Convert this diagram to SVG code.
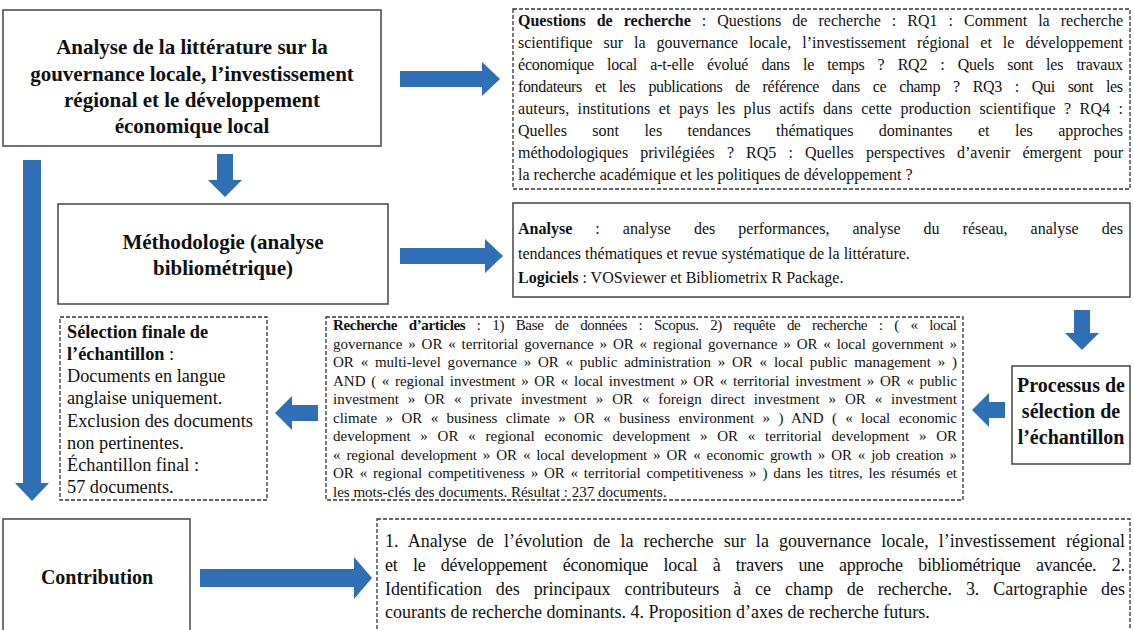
<svg xmlns="http://www.w3.org/2000/svg" width="1134" height="630" viewBox="0 0 1134 630">
<style>
.t{font-family:"Liberation Serif","Times New Roman",serif;fill:#111}
.b{font-weight:bold}
.box{fill:#fff;stroke:#444;stroke-width:1.5}
.dash{fill:#fff;stroke:#333;stroke-width:1.3;stroke-dasharray:4 2}
.arr{fill:#2F6FB6}
.q{font-size:16px}
.a{font-size:16px}
.s{font-size:15px}
.m{font-size:18px}
.sel{font-size:18.3px}
.h{font-size:21px;font-weight:bold;text-anchor:middle}
.p{font-size:20px;font-weight:bold;text-anchor:middle}
</style>
<rect width="1134" height="630" fill="#fff"/>
<g id="connectors">
<polygon class="arr" points="400,71 482,71 482,62 500,79 482,96 482,87 400,87"/>
<polygon class="arr" points="400,248 485,248 485,239 503,256 485,273 485,264 400,264"/>
<polygon class="arr" points="200,569 354,569 354,557 372,578 354,599 354,587 200,587"/>
<polygon class="arr" points="217,154 233,154 233,180 242,180 225,197 208,180 217,180"/>
<polygon class="arr" points="23,160 41,160 41,483 49,483 32,501 15,483 23,483"/>
<polygon class="arr" points="1074,310 1090,310 1090,333 1099,333 1082,350 1065,333 1074,333"/>
<polygon class="arr" points="1005,402 989,402 989,393 972,410 989,427 989,418 1005,418"/>
<polygon class="arr" points="318,405 292,405 292,396 275,413 292,430 292,421 318,421"/>
</g>
<g id="literature">
<rect class="box" x="3" y="10" width="378" height="136"/>
<text class="t h" x="192" y="54">Analyse de la littérature sur la</text>
<text class="t h" x="192" y="81">gouvernance locale, l’investissement</text>
<text class="t h" x="192" y="107">régional et le développement</text>
<text class="t h" x="192" y="133">économique local</text>
</g>
<g id="questions">
<rect class="dash" x="513" y="9" width="617" height="180"/>
<text class="t q" x="518" y="26" word-spacing="7" textLength="605" lengthAdjust="spacing"><tspan class="b">Questions de recherche</tspan> : Questions de recherche : RQ1 : Comment la recherche</text>
<text class="t q" x="518" y="48" word-spacing="7" textLength="605" lengthAdjust="spacing">scientifique sur la gouvernance locale, l’investissement régional et le développement</text>
<text class="t q" x="518" y="70" word-spacing="9.4" textLength="605" lengthAdjust="spacing">économique local a-t-elle évolué dans le temps ? RQ2 : Quels sont les travaux</text>
<text class="t q" x="518" y="92" word-spacing="9.3" textLength="605" lengthAdjust="spacing">fondateurs et les publications de référence dans ce champ ? RQ3 : Qui sont les</text>
<text class="t q" x="518" y="114" word-spacing="4.2" textLength="605" lengthAdjust="spacing">auteurs, institutions et pays les plus actifs dans cette production scientifique ? RQ4 :</text>
<text class="t q" x="518" y="136" word-spacing="21.4" textLength="605" lengthAdjust="spacing">Quelles sont les tendances thématiques dominantes et les approches</text>
<text class="t q" x="518" y="158" word-spacing="8.1" textLength="605" lengthAdjust="spacing">méthodologiques privilégiées ? RQ5 : Quelles perspectives d’avenir émergent pour</text>
<text class="t q" x="518" y="180">la recherche académique et les politiques de développement ?</text>
</g>
<g id="methodologie">
<rect class="box" x="58" y="204" width="330" height="100"/>
<text class="t h" x="223" y="249">Méthodologie (analyse</text>
<text class="t h" x="223" y="275">bibliométrique)</text>
</g>
<g id="analyse">
<rect class="box" x="513" y="203" width="617" height="94"/>
<text class="t a" x="518" y="234" word-spacing="19" textLength="605" lengthAdjust="spacing"><tspan class="b">Analyse</tspan> : analyse des performances, analyse du réseau, analyse des</text>
<text class="t a" x="518" y="259">tendances thématiques et revue systématique de la littérature.</text>
<text class="t a" x="518" y="283"><tspan class="b">Logiciels</tspan> : VOSviewer et Bibliometrix R Package.</text>
</g>
<g id="processus">
<rect class="box" x="1012" y="366" width="118" height="98"/>
<text class="t p" x="1071" y="392">Processus de</text>
<text class="t p" x="1071" y="418">sélection de</text>
<text class="t p" x="1071" y="444">l’échantillon</text>
</g>
<g id="recherche">
<rect class="dash" x="326" y="317" width="637" height="183"/>
<text class="t s" x="333" y="330" word-spacing="8.2" textLength="624" lengthAdjust="spacing"><tspan class="b">Recherche d’articles</tspan> : 1) Base de données : Scopus. 2) requête de recherche : ( « local</text>
<text class="t s" x="333" y="348.5" word-spacing="2" textLength="624" lengthAdjust="spacing">governance » OR « territorial governance » OR « regional governance » OR « local government »</text>
<text class="t s" x="333" y="367" word-spacing="3" textLength="624" lengthAdjust="spacing">OR « multi-level governance » OR « public administration » OR « local public management » )</text>
<text class="t s" x="333" y="385.5" word-spacing="1.9" textLength="624" lengthAdjust="spacing">AND ( « regional investment » OR « local investment » OR « territorial investment » OR « public</text>
<text class="t s" x="333" y="404" word-spacing="5.1" textLength="624" lengthAdjust="spacing">investment » OR « private investment » OR « foreign direct investment » OR « investment</text>
<text class="t s" x="333" y="422.5" word-spacing="4.6" textLength="624" lengthAdjust="spacing">climate » OR « business climate » OR « business environment » ) AND ( « local economic</text>
<text class="t s" x="333" y="441" word-spacing="6" textLength="624" lengthAdjust="spacing">development » OR « regional economic development » OR « territorial development » OR</text>
<text class="t s" x="333" y="459.5" word-spacing="2.4" textLength="624" lengthAdjust="spacing">« regional development » OR « local development » OR « economic growth » OR « job creation »</text>
<text class="t s" x="333" y="478" word-spacing="2" textLength="624" lengthAdjust="spacing">OR « regional competitiveness » OR « territorial competitiveness » ) dans les titres, les résumés et</text>
<text class="t s" x="333" y="496.5">les mots-clés des documents. Résultat : 237 documents.</text>
</g>
<g id="selection">
<rect class="dash" x="60" y="317" width="207" height="183"/>
<text class="t sel b" x="67" y="338">Sélection finale de</text>
<text class="t sel" x="67" y="360"><tspan class="b">l’échantillon</tspan> :</text>
<text class="t sel" x="67" y="382">Documents en langue</text>
<text class="t sel" x="67" y="404">anglaise uniquement.</text>
<text class="t sel" x="67" y="427">Exclusion des documents</text>
<text class="t sel" x="67" y="449">non pertinentes.</text>
<text class="t sel" x="67" y="471">Échantillon final :</text>
<text class="t sel" x="67" y="493">57 documents.</text>
</g>
<g id="contribution">
<rect class="box" x="3" y="519" width="187" height="130"/>
<text class="t p" x="97" y="584">Contribution</text>
</g>
<g id="contributions-list">
<rect class="dash" x="377" y="519" width="753" height="130"/>
<text class="t m" x="385" y="547" word-spacing="5.7" textLength="740" lengthAdjust="spacing">1. Analyse de l’évolution de la recherche sur la gouvernance locale, l’investissement régional</text>
<text class="t m" x="385" y="571" word-spacing="11.2" textLength="740" lengthAdjust="spacing">et le développement économique local à travers une approche bibliométrique avancée. 2.</text>
<text class="t m" x="385" y="595" word-spacing="9.4" textLength="740" lengthAdjust="spacing">Identification des principaux contributeurs à ce champ de recherche. 3. Cartographie des</text>
<text class="t m" x="385" y="618">courants de recherche dominants. 4. Proposition d’axes de recherche futurs.</text>
</g>
</svg>
